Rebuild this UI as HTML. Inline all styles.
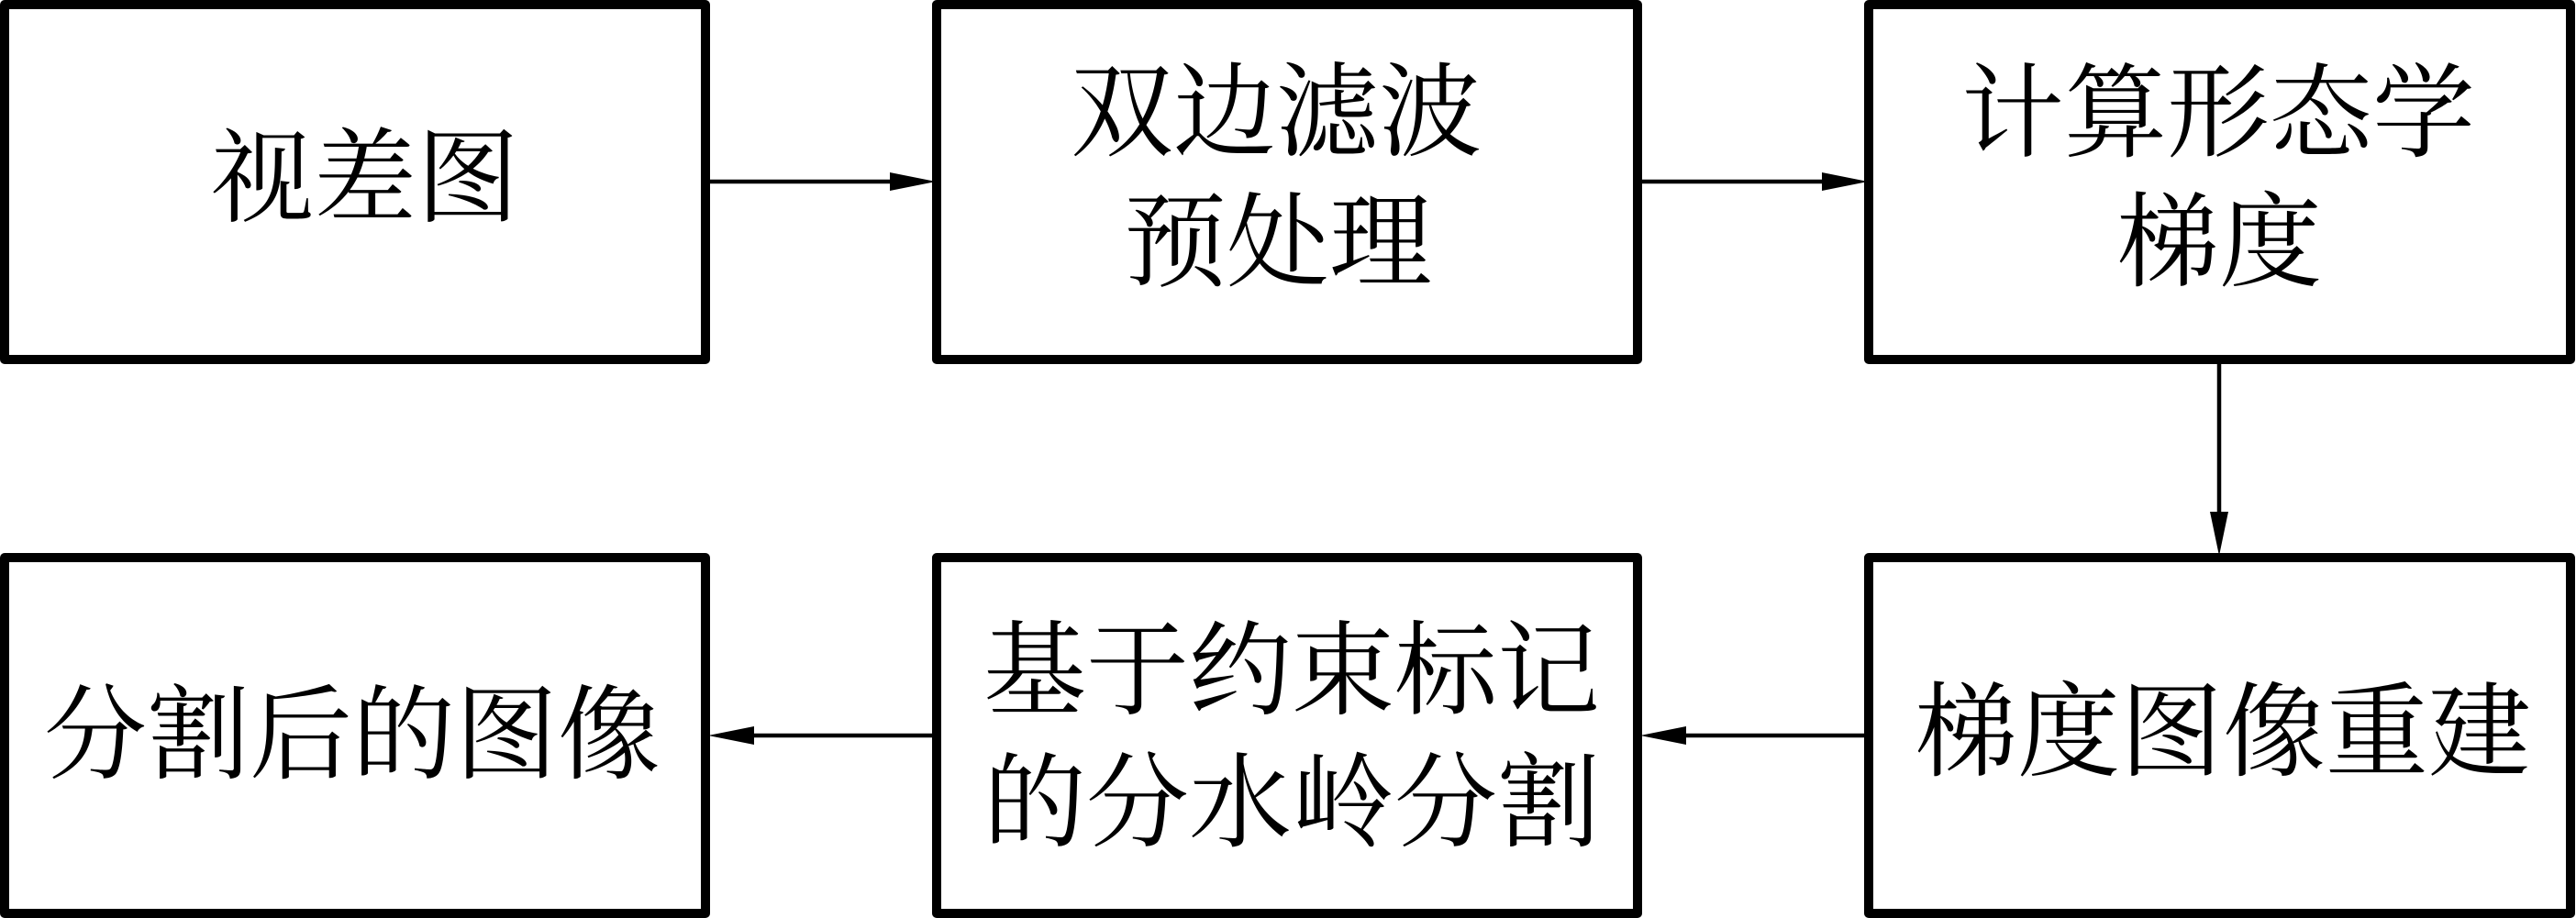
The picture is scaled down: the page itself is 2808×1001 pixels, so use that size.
<!DOCTYPE html>
<html><head><meta charset="utf-8">
<style>
html,body{margin:0;padding:0;background:#fff;width:2808px;height:1001px;overflow:hidden}
svg{display:block}
text{font-family:"Liberation Serif","Noto Serif CJK SC",serif;font-size:112px;fill:#000;text-anchor:middle}
rect{fill:#fff;stroke:#000;stroke-width:10;stroke-linejoin:round}
line{stroke:#000;stroke-width:4.5}
polygon{fill:#000}
</style></head><body>
<svg width="2808" height="1001" viewBox="0 0 2808 1001" xmlns="http://www.w3.org/2000/svg">
<rect x="5" y="5" width="764" height="387"/>
<rect x="1021" y="5" width="764" height="387"/>
<rect x="2037" y="5" width="765" height="387"/>
<rect x="5" y="608" width="764" height="388"/>
<rect x="1021" y="608" width="764" height="388"/>
<rect x="2037" y="608" width="765" height="388"/>

<line x1="774" y1="198" x2="972" y2="198"/><polygon points="1020,198 970,188 970,208"/>
<line x1="1790" y1="198" x2="1988" y2="198"/><polygon points="2036,198 1986,188 1986,208"/>
<line x1="2419" y1="397" x2="2419" y2="562"/><polygon points="2419,606 2409,558 2429,558"/>
<line x1="2033" y1="802" x2="1836" y2="802"/><polygon points="1788,802 1838,792 1838,812"/>
<line x1="1017" y1="802" x2="820" y2="802"/><polygon points="772,802 822,792 822,812"/>

<text x="398" y="233">视差图</text>
<text x="1391" y="161">双边滤波</text>
<text x="1393" y="303">预处理</text>
<text x="2418" y="162">计算形态学</text>
<text x="2419" y="303">梯度</text>
<text x="384" y="840">分割后的图像</text>
<text x="1408" y="770">基于约束标记</text>
<text x="1408" y="914">的分水岭分割</text>
<text x="2423" y="837">梯度图像重建</text>
</svg>
</body></html>
